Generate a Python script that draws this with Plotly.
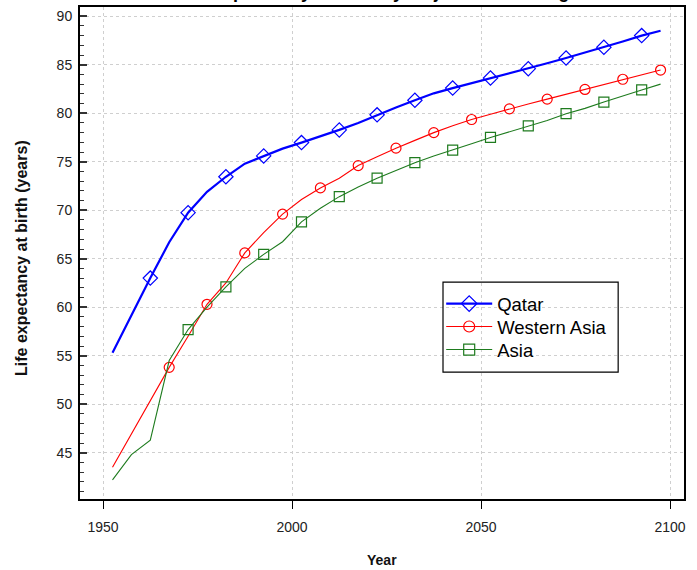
import plotly.graph_objects as go

years = [1952.5 + 5 * i for i in range(30)]

qatar = [55.3, 59.2, 63.0, 66.7, 69.75, 71.9, 73.45, 74.8, 75.6, 76.35,
         76.97, 77.6, 78.28, 79.0, 79.83, 80.6, 81.34, 82.05, 82.59, 83.1,
         83.62, 84.1, 84.59, 85.15, 85.69, 86.25, 86.79, 87.4, 88.0, 88.5]

western_asia = [43.5, 46.9, 50.3, 53.8, 57.0, 60.3, 62.5, 65.6, 67.7, 69.6,
                71.1, 72.3, 73.3, 74.6, 75.5, 76.4, 77.2, 78.0, 78.7, 79.35,
                79.9, 80.45, 80.95, 81.45, 81.95, 82.45, 83.0, 83.5, 84.0, 84.45]

asia = [42.2, 44.8, 46.3, 54.5, 57.7, 60.0, 62.1, 64.0, 65.45, 66.75,
        68.8, 70.2, 71.4, 72.4, 73.3, 74.1, 74.9, 75.6, 76.2, 76.85,
        77.5, 78.1, 78.7, 79.25, 79.95, 80.5, 81.15, 81.8, 82.4, 83.0]

series_names = ["Qatar", "Western Asia", "Asia"]
x_ticks = [1950, 2000, 2050, 2100]
y_ticks = [45, 50, 55, 60, 65, 70, 75, 80, 85, 90]

FONT = "Liberation Sans, Arial, Helvetica, sans-serif"

styles = [
    dict(color="#0000ff", width=2.2, symbol="diamond-open", size=11, start=2, legend="legend"),
    dict(color="#ff0000", width=1.1, symbol="circle-open", size=10, start=3, legend="legend2"),
    dict(color="#1e7b1e", width=1.1, symbol="square-open", size=10, start=4, legend="legend3"),
]

fig = go.Figure()
for name, vals, st in zip(series_names, [qatar, western_asia, asia], styles):
    fig.add_trace(go.Scatter(
        x=years, y=vals, mode="lines", showlegend=False,
        line=dict(color=st["color"], width=st["width"]),
        hoverinfo="skip"))
    fig.add_trace(go.Scatter(
        x=years[st["start"]::2], y=vals[st["start"]::2], mode="markers",
        showlegend=False,
        marker=dict(symbol=st["symbol"], size=st["size"], color=st["color"],
                    line=dict(color=st["color"], width=1.2))))
    fig.add_trace(go.Scatter(
        x=[None], y=[None], mode="lines+markers", name=name, legend=st["legend"],
        line=dict(color=st["color"], width=st["width"]),
        marker=dict(symbol=st["symbol"], size=st["size"] + 1, color=st["color"],
                    line=dict(color=st["color"], width=1.2))))

legend_common = dict(
    x=0.598, xanchor="left", yanchor="middle",
    bgcolor="rgba(0,0,0,0)", borderwidth=0,
    font=dict(family=FONT, size=18.5, color="black"),
    itemwidth=46,
)

fig.update_layout(
    width=697, height=570,
    margin=dict(l=80, r=13, t=7, b=71, autoexpand=False),
    paper_bgcolor="white", plot_bgcolor="white",
    font=dict(family=FONT, color="#222222", size=14),
    showlegend=True,
    legend=dict(y=0.3963, **legend_common),
    legend2=dict(y=0.3496, **legend_common),
    legend3=dict(y=0.3028, **legend_common),
    xaxis=dict(
        range=[1943.9, 2103.7], tickvals=x_ticks, automargin=False,
        showgrid=True, gridcolor="#cfcfcf", griddash="dot", gridwidth=1,
        zeroline=False, showline=True, linecolor="black", linewidth=1.5,
        mirror=True, ticks="outside", ticklen=8, tickcolor="black", tickwidth=1,
        tickfont=dict(size=14, family=FONT, color="#222222"),
        ticklabelstandoff=6,
    ),
    yaxis=dict(
        range=[40.23, 90.95], tickvals=y_ticks, automargin=False,
        showgrid=True, gridcolor="#cfcfcf", griddash="dot", gridwidth=1,
        zeroline=False, showline=True, linecolor="black", linewidth=2,
        mirror=True, ticks="inside", ticklen=7, tickcolor="#333333", tickwidth=1.5,
        minor=dict(dtick=1, ticks="inside", ticklen=4, tickcolor="#333333",
                   tickwidth=1, showgrid=False),
        tickfont=dict(size=14, family=FONT, color="#222222"),
        ticklabelstandoff=3,
    ),
    shapes=[dict(
        type="rect", xref="paper", yref="paper",
        x0=0.601, x1=0.891, y0=0.258, y1=0.441,
        line=dict(color="black", width=1.2), fillcolor="rgba(0,0,0,0)",
        layer="above",
    )],
    annotations=[
        dict(
            text="<b>Life expectancy at birth by major area and region</b>",
            xref="paper", yref="paper", x=0.507, y=1.0, yshift=3,
            xanchor="center", yanchor="bottom", showarrow=False,
            font=dict(size=18, family=FONT, color="black"),
        ),
        dict(
            text="<b>Year</b>", xref="paper", yref="paper",
            x=0.5, y=-0.124, xanchor="center", yanchor="middle",
            showarrow=False, font=dict(size=14, family=FONT, color="#111111"),
        ),
        dict(
            text="<b>Life expectancy at birth (years)</b>", xref="paper",
            yref="paper", x=-0.096, y=0.49, xanchor="center", yanchor="middle",
            textangle=-90, showarrow=False,
            font=dict(size=16, family=FONT, color="#111111"),
        ),
    ],
)

fig.write_html("out.html", config={"displayModeBar": False},
               post_script="document.body.style.margin='0';")
